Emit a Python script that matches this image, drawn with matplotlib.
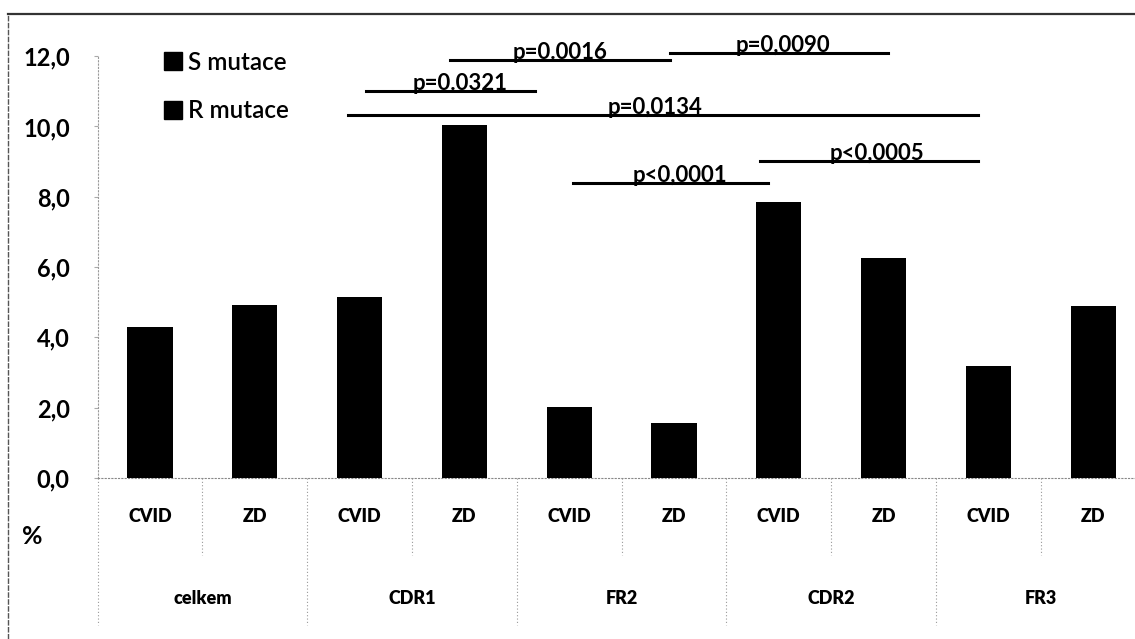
import matplotlib
matplotlib.use("Agg")
import matplotlib.pyplot as plt
from matplotlib.patches import Patch
from matplotlib.lines import Line2D
from matplotlib.ticker import FuncFormatter

plt.rcParams['font.family'] = ['Lato', 'DejaVu Sans']

groups = ["celkem", "CDR1", "FR2", "CDR2", "FR3"]
subcats = ["CVID", "ZD", "CVID", "ZD", "CVID", "ZD", "CVID", "ZD", "CVID", "ZD"]
values = [4.3, 4.92, 5.15, 10.05, 2.02, 1.57, 7.85, 6.25, 3.2, 4.9]
legend_labels = ["S mutace", "R mutace"]
yticks = [0, 2, 4, 6, 8, 10, 12]

# significance brackets: (x_start, x_end, y, label, text_x)
sig_x0 = [2.86, 4.96, 2.06, 1.89, 4.04, 5.82]
sig_x1 = [4.96, 7.04, 3.67, 7.90, 5.90, 7.90]
sig_y = [11.88, 12.08, 11.0, 10.32, 8.39, 9.01]
sig_lab = ["p=0.0016", "p=0,0090", "p=0.0321", "p=0,0134", "p<0,0001", "p<0,0005"]
sig_tx = [3.91, 6.04, 2.96, 4.82, 5.06, 6.94]

W, H = 1135, 639
fig = plt.figure(figsize=(W / 100, H / 100), dpi=100)
ax = fig.add_axes([97.6 / W, (H - 478) / H, 1048 / W, 464 / H])

x = list(range(len(values)))
ax.bar(x, values, width=0.43, color="black", zorder=3)
ax.set_xlim(-0.5, 9.5)
ax.set_ylim(0, 13.2)

for s in ["top", "right"]:
    ax.spines[s].set_visible(False)
ax.spines["left"].set_bounds(0, 12)
ax.spines["left"].set_linestyle((0, (1, 2)))
ax.spines["left"].set_color("#999999")
ax.spines["left"].set_linewidth(0.8)
ax.spines["bottom"].set_linestyle((0, (1, 2)))
ax.spines["bottom"].set_color("#888888")
ax.spines["bottom"].set_linewidth(0.8)

ax.set_yticks(yticks)
ax.yaxis.set_major_formatter(FuncFormatter(lambda v, p: f"{v:.1f}".replace(".", ",")))
ax.tick_params(axis="y", length=3, color="#aaaaaa", pad=17, labelsize=17)
for t in ax.get_yticklabels():
    t.set_fontweight("bold")
ax.set_xticks([])

tr = ax.get_xaxis_transform()
# category labels
for i, lab in enumerate(subcats):
    ax.text(i, -0.084, lab, transform=tr, ha="center", va="center",
            fontsize=13, fontweight="heavy")
for g, lab in enumerate(groups):
    ax.text(2 * g + 0.5, -0.259, lab, transform=tr, ha="center", va="center",
            fontsize=13, fontweight="heavy")
# separators
for k in range(10):
    xs = k - 0.5
    bottom = -0.317 if k % 2 == 0 else -0.166
    ax.plot([xs, xs], [0, bottom], transform=tr, color="#999999", lw=0.8,
            linestyle=(0, (1, 2)), clip_on=False)

# significance lines
for x0, x1, y, lab, tx in zip(sig_x0, sig_x1, sig_y, sig_lab, sig_tx):
    ax.plot([x0, x1], [y, y], color="black", lw=2.2, clip_on=False, zorder=4)
    ax.text(tx, y - 0.08, lab, ha="center", va="bottom", fontsize=16,
            fontweight="bold", zorder=5)

# legend
handles = [Patch(facecolor="black", edgecolor="black") for _ in legend_labels]
leg = ax.legend(handles, legend_labels, loc="upper left",
                bbox_to_anchor=(154 / W, (H - 41) / H), bbox_transform=fig.transFigure,
                frameon=False, fontsize=17.5, handlelength=0.75, handleheight=0.75,
                handletextpad=0.25, labelspacing=1.05, borderaxespad=0)
for t in leg.get_texts():
    t.set_fontweight("semibold")

# % label
fig.text(22 / W, (H - 537) / H, "%", fontsize=18, fontweight="bold", ha="left", va="center")

# outer frame
fig.add_artist(Line2D([8 / W, 1.0], [(H - 14) / H, (H - 14) / H], transform=fig.transFigure,
                      color="#333333", lw=1.6))
fig.add_artist(Line2D([8 / W, 8 / W], [0, (H - 14) / H], transform=fig.transFigure,
                      color="#555555", lw=1.0, linestyle=(0, (4, 1))))

fig.savefig("out.png", dpi=100)
